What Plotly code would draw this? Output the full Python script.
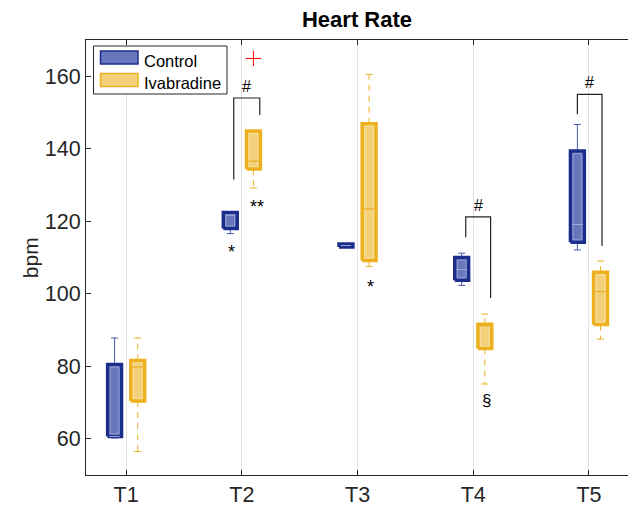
import plotly.graph_objects as go

# ---------------- data ----------------
categories = ["T1", "T2", "T3", "T4", "T5"]
positions = [1, 2, 3, 4, 5]
series_names = ["Control", "Ivabradine"]

ctrl_lower = [60.2, 116.6, 112.9, 102.3, 112.1]
ctrl_q1 = [60.6, 118.0, 112.9, 103.7, 114.2]
ctrl_median = [60.6, 121.7, 113.3, 106.7, 119.1]
ctrl_q3 = [80.5, 122.4, 113.7, 110.0, 139.4]
ctrl_upper = [87.8, 122.4, 113.7, 111.2, 146.7]

ivab_lower = [56.5, 129.2, 107.5, 75.1, 87.5]
ivab_q1 = [70.4, 134.4, 109.2, 84.9, 91.5]
ivab_median = [79.8, 136.6, 123.4, 91.1, 100.6]
ivab_q3 = [81.6, 144.9, 146.9, 91.6, 105.9]
ivab_upper = [87.8, 144.9, 160.5, 94.4, 109.0]

outlier_cat = [2]
outlier_val = [164.9]

# significance brackets (category, left/right offset, top, left end, right end)
br_cat = [2, 4, 5]
br_left_off = [-0.07, -0.065, -0.10]
br_right_off = [0.155, 0.15, 0.113]
br_top = [154.0, 121.2, 155.0]
br_left_end = [131.5, 115.6, 149.5]
br_right_end = [149.3, 98.8, 113.2]
br_label = ["#", "#", "#"]

sig_text = ["*", "**", "*", "§"]
sig_cat = [2, 2, 3, 4]
sig_off = [-0.09, 0.13, 0.113, 0.116]
sig_val = [112.7, 125.1, 103.1, 70.5]

# ---------------- styling ----------------
OFF = 0.10
HW = 0.06
CAP = 0.03
FONT = "Liberation Sans, Arial, sans-serif"
W, H = 628, 510
ML, MR, MT, MB = 86, 0, 40, 35
PW, PH = W - ML - MR, H - MT - MB

groups = [
    dict(name=series_names[0], off=-OFF, lo=ctrl_lower, q1=ctrl_q1, med=ctrl_median, q3=ctrl_q3, up=ctrl_upper,
         edge="#1c2e8c", fill="rgba(104,118,188,1)", inner="rgba(150,160,212,1)",
         medc="rgba(160,170,215,1)", wc="rgba(70,88,170,1)", dash="solid"),
    dict(name=series_names[1], off=OFF, lo=ivab_lower, q1=ivab_q1, med=ivab_median, q3=ivab_q3, up=ivab_upper,
         edge="#EDB120", fill="rgba(242,208,122,1)", inner="rgba(248,224,160,1)",
         medc="rgba(232,168,30,1)", wc="#EDB120", dash="6px,5px"),
]

fig = go.Figure()

for g in groups:
    wx, wy, cx, cy, bx, by, ix, iy, mx, my = [], [], [], [], [], [], [], [], [], []
    for p, lo, q1, md, q3, up in zip(positions, g["lo"], g["q1"], g["med"], g["q3"], g["up"]):
        c = p + g["off"]
        wx += [c, c, None, c, c, None]
        wy += [q3, up, None, q1, lo, None]
        cx += [c - CAP, c + CAP, None, c - CAP, c + CAP, None]
        cy += [up, up, None, lo, lo, None]
        bx += [c - HW, c + HW, c + HW, c - HW, c - HW, None]
        by += [q1, q1, q3, q3, q1, None]
        dx, dy = 0.022, 0.7
        if q3 - q1 > 3 * dy:
            ix += [c - HW + dx, c + HW - dx, c + HW - dx, c - HW + dx, c - HW + dx, None]
            iy += [q1 + dy, q1 + dy, q3 - dy, q3 - dy, q1 + dy, None]
        mx += [c - HW + 0.015, c + HW - 0.015, None]
        my += [md, md, None]
    fig.add_trace(go.Scatter(x=wx, y=wy, mode="lines", line=dict(color=g["wc"], width=1, dash=g["dash"]),
                             showlegend=False, hoverinfo="skip"))
    fig.add_trace(go.Scatter(x=cx, y=cy, mode="lines", line=dict(color=g["wc"], width=1),
                             showlegend=False, hoverinfo="skip"))
    fig.add_trace(go.Scatter(x=bx, y=by, mode="lines", fill="toself", fillcolor=g["fill"],
                             line=dict(color=g["edge"], width=3.5), name=g["name"], showlegend=False))
    fig.add_trace(go.Scatter(x=ix, y=iy, mode="lines", line=dict(color=g["inner"], width=1),
                             showlegend=False, hoverinfo="skip"))
    fig.add_trace(go.Scatter(x=mx, y=my, mode="lines", line=dict(color=g["medc"], width=1),
                             showlegend=False, hoverinfo="skip"))

# outlier
fig.add_trace(go.Scatter(x=[c + OFF for c in outlier_cat], y=outlier_val, mode="markers",
                         marker=dict(symbol="cross-thin", size=11, line=dict(color="red", width=1)),
                         showlegend=False, hoverinfo="skip"))

# brackets
bxs, bys = [], []
for c, lo_, ro_, t, le, re in zip(br_cat, br_left_off, br_right_off, br_top, br_left_end, br_right_end):
    bxs += [c + lo_, c + lo_, c + ro_, c + ro_, None]
    bys += [le, t, t, re, None]
fig.add_trace(go.Scatter(x=bxs, y=bys, mode="lines", line=dict(color="#222222", width=1.2),
                         showlegend=False, hoverinfo="skip"))

annotations = []
for c, lo_, ro_, t, lab in zip(br_cat, br_left_off, br_right_off, br_top, br_label):
    annotations.append(dict(x=c + (lo_ + ro_) / 2, y=t, xref="x", yref="y", text=lab, showarrow=False,
                            yanchor="bottom", yshift=1, font=dict(family=FONT, size=16, color="black")))
for t, c, o, v in zip(sig_text, sig_cat, sig_off, sig_val):
    annotations.append(dict(x=c + o, y=v, xref="x", yref="y", text=t, showarrow=False,
                            yanchor="middle", yshift=-4 if "*" in t else 0,
                            font=dict(family=FONT, size=18 if "*" in t else 17, color="black")))
annotations.append(dict(x=-0.127, y=0.5, xref="paper", yref="paper", text="bpm", textangle=-90,
                        showarrow=False, font=dict(family=FONT, size=21, color="#262626")))


# ---------------- legend (drawn in plot-area paper coordinates) ----------------
def px(xp):
    return (xp - ML) / PW


def py(yp):
    return (H - MB - yp) / PH


shapes = [dict(type="rect", xref="paper", yref="paper", x0=px(93.5), x1=px(227), y0=py(94), y1=py(46),
               line=dict(color="#262626", width=1), fillcolor="white", layer="above")]
legend_rows = [(51, 64, 60.5), (73.5, 86.5, 83)]
for g, (ya, yb, yt) in zip(groups, legend_rows):
    shapes.append(dict(type="rect", xref="paper", yref="paper", x0=px(100.5), x1=px(138), y0=py(yb), y1=py(ya),
                       line=dict(color=g["edge"], width=1.5), fillcolor=g["fill"], layer="above"))
    annotations.append(dict(x=px(142), y=py(yt), xref="paper", yref="paper", text=g["name"], showarrow=False,
                            xanchor="left", yanchor="middle", font=dict(family=FONT, size=16.5, color="black")))

fig.update_layout(
    width=W, height=H,
    margin=dict(l=ML, r=MR, t=MT, b=MB),
    paper_bgcolor="white", plot_bgcolor="white",
    title=dict(text="<b>Heart Rate</b>", x=0.5, xref="paper", y=1 - 19 / H, yanchor="middle",
               font=dict(family=FONT, size=22, color="black")),
    font=dict(family=FONT, color="#262626"),
    showlegend=False,
    annotations=annotations,
    shapes=shapes,
)
fig.update_xaxes(range=[0.653, 0.653 + PW / 115.7], tickmode="array", tickvals=positions, ticktext=categories,
                 showgrid=True, gridcolor="#e3e3e3", gridwidth=1, zeroline=False,
                 showline=True, linecolor="#262626", linewidth=1, mirror="ticks",
                 ticks="inside", ticklen=5, tickcolor="#262626",
                 tickfont=dict(family=FONT, size=21.5, color="#262626"))
fig.update_yaxes(range=[50, 170], tickvals=[60, 80, 100, 120, 140, 160],
                 showgrid=False, zeroline=False, showline=True, linecolor="#262626", linewidth=1,
                 ticks="inside", ticklen=5, tickcolor="#262626",
                 tickfont=dict(family=FONT, size=21.5, color="#262626"))

fig.write_html("out.html")
